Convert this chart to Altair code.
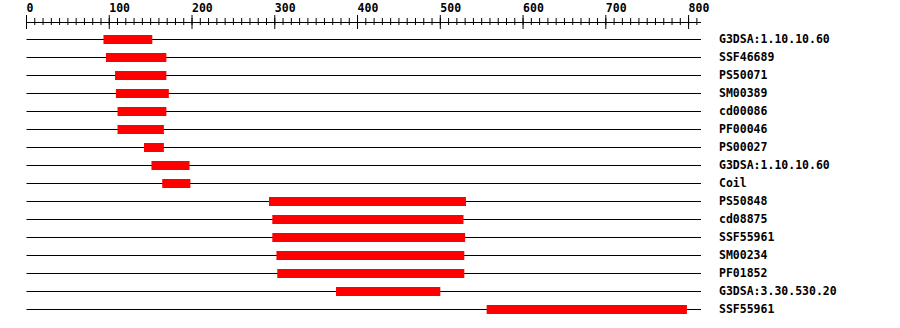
import altair as alt
import pandas as pd

# Domain hits, top to bottom
names = ["G3DSA:1.10.10.60", "SSF46689", "PS50071", "SM00389", "cd00086",
         "PF00046", "PS00027", "G3DSA:1.10.10.60", "Coil", "PS50848",
         "cd08875", "SSF55961", "SM00234", "PF01852", "G3DSA:3.30.530.20",
         "SSF55961"]
starts = [93, 96, 107, 108, 110, 110, 142, 151, 164, 293, 297, 297, 302, 303, 374, 556]
ends = [152, 169, 169, 172, 169, 166, 166, 197, 198, 531, 528, 530, 529, 529, 500, 798]

# Ruler
major_ticks = [0, 100, 200, 300, 400, 500, 600, 700, 800]
minor_ticks = list(range(0, 811, 10))
seq_length = 815

FONT = "DejaVu Sans Mono"

hits = pd.DataFrame({
    "row": list(range(len(names))),
    "name": names,
    "start": starts,
    "end": ends,
    "x0": [0] * len(names),
    "x1": [seq_length] * len(names),
})

x_scale = alt.Scale(domain=[0, seq_length], range=[26.5, 701])
y_scale = alt.Scale(domain=[0, len(names) - 1], range=[39.5, 309.5])

X = lambda f: alt.X(f, type="quantitative", scale=x_scale, axis=None)
Y = alt.Y("row:Q", scale=y_scale, axis=None)

tracks = alt.Chart(hits).mark_rule(color="black", strokeWidth=1).encode(
    x=X("x0"), x2="x1", y=Y
)
bars = alt.Chart(hits).mark_rule(color="#ff0000", strokeWidth=9, strokeCap="butt").encode(
    x=X("start"), x2="end", y=Y
)
labels = alt.Chart(hits).mark_text(
    align="left", baseline="middle", font=FONT, fontSize=11.5, fontWeight="bold", color="black"
).encode(x=alt.value(719), y=Y, text="name:N")

ruler_df = pd.DataFrame({"a": [0], "b": [seq_length]})
ruler_line = alt.Chart(ruler_df).mark_rule(color="black", strokeWidth=1).encode(
    x=X("a"), x2="b", y=alt.value(22.5)
)
minor_df = pd.DataFrame({"pos": minor_ticks})
minor = alt.Chart(minor_df).mark_rule(color="black", strokeWidth=1).encode(
    x=X("pos"), y=alt.value(18), y2=alt.value(25)
)
major_df = pd.DataFrame({"pos": major_ticks, "label": [str(v) for v in major_ticks]})
major = alt.Chart(major_df).mark_rule(color="black", strokeWidth=1).encode(
    x=X("pos"), y=alt.value(15), y2=alt.value(29)
)
major_text = alt.Chart(major_df).mark_text(
    align="left", baseline="middle", font=FONT, fontSize=11.5, fontWeight="bold", color="black"
).encode(x=X("pos"), y=alt.value(8.5), text="label:N")

chart = alt.layer(
    ruler_line, minor, major, major_text, tracks, bars, labels
).properties(
    width=900, height=328, padding=0,
    autosize=alt.AutoSizeParams(type="none"),
    background="white",
).configure_view(stroke=None)

chart.save("out.html", embed_options={"renderer": "svg", "actions": False})
